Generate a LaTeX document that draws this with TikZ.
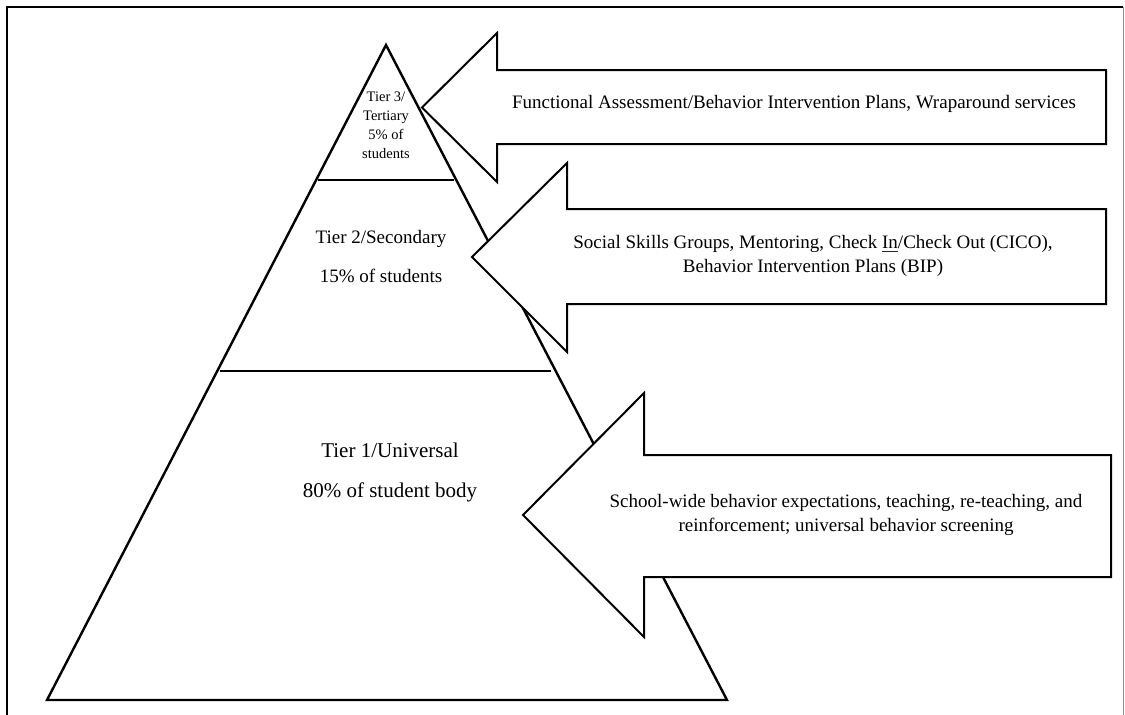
\documentclass[tikz,border=0pt]{standalone}
\usepackage{fontspec}
\setmainfont{Liberation Serif}
\usepackage{xcolor}
\usepackage{tikz}

\tikzset{
  pyr/.style={line width=2.4pt, line join=miter},
  tierarrow/.style={draw, fill=white, line width=2pt, line join=miter},
  tiertext/.style={align=center, font=\fontsize{19}{24}\selectfont},
  bigtext/.style={align=center, font=\fontsize{21}{25}\selectfont},
  smalltext/.style={align=center, font=\fontsize{14.5}{19}\selectfont},
}
\newcommand{\spellmark}[1]{\makebox[0pt][l]{\color{blue!60!violet}\raisebox{-3pt}{\rule{0.83em}{0.7pt}}}#1}

\begin{document}
\begin{tikzpicture}[x=1pt, y=-1pt]
		\useasboundingbox (0,0) rectangle (1125,715);
		% frame
		\draw[line width=2.4pt] (7,716) -- (7,7) -- (1123,7);
		\draw[line width=1pt, black!45] (1123,7) -- (1123,716);
		% pyramid
		\draw[pyr] (386,45) -- (47,700) -- (727,700) -- cycle;
		\draw[pyr] (318,180) -- (454,180);
		\draw[pyr] (220,371) -- (551,371);
		\node[smalltext] (tier3) at (386,125) {Tier 3/\\Tertiary\\5\% of\\students};
		\node[tiertext] (tier2) at (381,257) {Tier 2/Secondary\\[15pt]15\% of students};
		\node[bigtext] (tier1) at (390,472) {Tier 1/Universal\\[15pt]80\% of student body};
		% arrows
		\filldraw[tierarrow] (422,107.5) -- (497,33) -- (497,70) -- (1106,70) -- (1106,144) -- (497,144) -- (497,182) -- cycle;
		\node[tiertext] (supp3) at (794,104) {Functional Assessment/Behavior Intervention Plans, Wraparound services};
		\filldraw[tierarrow] (472,257) -- (567,163) -- (567,209) -- (1106,209) -- (1106,304) -- (567,304) -- (567,352) -- cycle;
		\node[tiertext] (supp2) at (813,256) {Social Skills Groups, Mentoring, Check \spellmark{In}/Check Out (CICO),\\Behavior Intervention Plans (BIP)};
		\filldraw[tierarrow] (523,515) -- (644,393) -- (644,455) -- (1111,455) -- (1111,577) -- (644,577) -- (644,637) -- cycle;
		\node[tiertext] (supp1) at (846,515) {School-wide behavior expectations, teaching, re-teaching, and\\reinforcement; universal behavior screening};
\end{tikzpicture}
\end{document}
